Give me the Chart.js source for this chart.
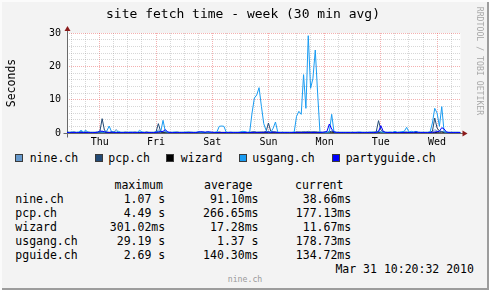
<!DOCTYPE html>
<html>
<head>
<meta charset="utf-8">
<title>site fetch time - week</title>
<script src="https://cdn.jsdelivr.net/npm/chart.js@4/dist/chart.umd.min.js"></script>
<style>
  body { margin: 0; background: #f3f3f3; }
  #graph {
    position: relative; width: 489px; height: 290px; overflow: hidden;
    background: #f3f3f3;
    box-shadow: inset 2px 2px 0 #fbfbfb, inset -2px -2px 0 #9c9c9c;
    font-family: "DejaVu Sans Mono", monospace; color: #000;
  }
  #graph canvas { position: absolute; left: 0; top: 0; }
  .txt { position: absolute; white-space: pre; font-size: 11.5px; line-height: 14px; }
  .title { left: 0; width: 486px; top: 5.8px; text-align: center; font-size: 13px; line-height: 16px; }
  .ylabel { left: -19.3px; width: 60px; top: 75.6px; text-align: center; transform: rotate(-90deg); }
  .mark { left: 425px; width: 110px; top: 56px; text-align: center; font-size: 8.2px; line-height: 10px;
          color: #a8a8a8; transform: rotate(90deg); }
  .footer { left: 0; width: 490px; top: 273.9px; text-align: center; font-size: 8.2px; line-height: 10px; color: #9a9a9a; }
  .box { position: absolute; width: 6px; height: 6px; top: 154px; border: 1px solid #3a3a3a; }
</style>
</head>
<body>
<div id="graph">
  <canvas id="fetchChart" width="489" height="150"></canvas>
  <div class="txt title">site fetch time - week (30 min avg)</div>
  <div class="txt ylabel">Seconds</div>
  <div class="txt mark">RRDTOOL / TOBI OETIKER</div>
  <div class="txt footer">nine.ch</div>
</div>

<script>
// one value per hour, hour 0 = Wed 10:20, hour 168 = Wed 10:20 a week later
const FIRST_MIDNIGHT = 14;
const DAYS = ['Thu', 'Fri', 'Sat', 'Sun', 'Mon', 'Tue', 'Wed'];
const Y_MAX = 30;

const SERIES_NAMES = ['nine.ch', 'pcp.ch', 'wizard', 'usgang.ch', 'partyguide.ch'];
const SHORT_NAMES = ['nine.ch', 'pcp.ch', 'wizard', 'usgang.ch', 'pguide.ch'];
const COLORS = ['#6699CC', '#234A75', '#000000', '#1A9CF2', '#0000FF'];

const STAT_HEADERS = ['maximum', 'average', 'current'];
const STAT_MAX = ['1.07 s', '4.49 s', '301.02ms', '29.19 s', '2.69 s'];
const STAT_AVG = ['91.10ms', '266.65ms', '17.28ms', '1.37 s', '140.30ms'];
const STAT_CUR = ['38.66ms', '177.13ms', '11.67ms', '178.73ms', '134.72ms'];
const STAMP = 'Mar 31 10:20:32 2010';

const nine = [
  0.08, 0.07, 0.09, 0.08, 0.07, 0.1, 0.5, 0.09, 0.3, 0.08, 0.07, 0.08,
  0.07, 0.08, 0.1, 0.6, 0.2, 0.09, 0.1, 0.3, 0.2, 1.07, 0.1, 0.08,
  0.07, 0.08, 0.07, 0.09, 0.08, 0.07, 0.08, 0.3, 0.09, 0.07, 0.08, 0.07,
  0.08, 0.09, 0.2, 0.9, 0.3, 0.4, 0.2, 0.08, 0.07, 0.08, 0.07, 0.08,
  0.07, 0.08, 0.07, 0.08, 0.09, 0.07, 0.08, 0.07, 0.08, 0.07, 0.09, 0.07,
  0.08, 0.07, 0.08, 0.07, 0.1, 0.2, 0.15, 0.1, 0.07, 0.08, 0.07, 0.08,
  0.07, 0.08, 0.1, 0.2, 0.1, 0.08, 0.1, 0.3, 0.4, 0.3, 0.35, 0.25,
  0.15, 0.1, 0.6, 0.2, 0.2, 0.3, 0.08, 0.07, 0.08, 0.07, 0.08, 0.07,
  0.08, 0.1, 0.2, 0.25, 0.2, 0.4, 0.2, 0.5, 0.3, 0.3, 0.4, 0.2,
  0.08, 0.07, 0.08, 0.1, 0.3, 0.6, 0.1, 0.08, 0.07, 0.08, 0.07, 0.08,
  0.07, 0.08, 0.07, 0.08, 0.07, 0.09, 0.08, 0.07, 0.08, 0.07, 0.09, 0.08,
  0.1, 0.8, 0.3, 0.1, 0.08, 0.07, 0.08, 0.1, 0.2, 0.08, 0.1, 0.15,
  0.2, 0.4, 0.1, 0.2, 0.1, 0.15, 0.08, 0.07, 0.08, 0.07, 0.08, 0.1,
  0.3, 1.0, 0.6, 0.2, 0.5, 0.15, 0.08, 0.07, 0.08, 0.07, 0.08, 0.07,
  0.039
];

const pcp = [
  0.3, 0.2, 0.2, 0.3, 0.2, 0.2, 0.3, 0.2, 0.2, 0.3, 0.2, 0.2,
  0.2, 0.3, 0.3, 4.3, 0.8, 0.3, 0.2, 0.2, 0.3, 0.2, 0.2, 0.2,
  0.2, 0.3, 0.2, 0.2, 0.2, 0.3, 0.2, 0.2, 0.2, 0.2, 0.3, 0.2,
  0.2, 0.2, 0.3, 2.8, 0.4, 0.2, 0.3, 0.2, 0.2, 0.2, 0.2, 0.3,
  0.2, 0.2, 0.2, 0.2, 0.3, 0.2, 0.2, 0.2, 0.2, 0.2, 0.3, 0.2,
  0.2, 0.2, 0.2, 0.2, 0.2, 0.3, 0.2, 0.2, 0.2, 0.2, 0.2, 0.2,
  0.2, 0.2, 0.2, 0.3, 0.2, 0.2, 0.2, 0.3, 0.3, 0.2, 0.2, 0.3,
  0.3, 0.4, 3.0, 0.5, 0.3, 0.3, 0.2, 0.2, 0.2, 0.2, 0.2, 0.2,
  0.2, 0.2, 0.3, 0.3, 0.3, 0.3, 0.3, 0.3, 0.3, 0.3, 0.3, 0.3,
  0.3, 0.2, 0.2, 0.2, 0.4, 0.5, 0.3, 0.2, 0.2, 0.2, 0.2, 0.2,
  0.2, 0.2, 0.2, 0.2, 0.2, 0.2, 0.2, 0.2, 0.2, 0.2, 0.2, 0.3,
  0.3, 3.7, 1.0, 0.3, 0.2, 0.2, 0.2, 0.2, 0.2, 0.2, 0.2, 0.2,
  0.2, 0.2, 0.2, 0.2, 0.2, 0.2, 0.2, 0.2, 0.2, 0.2, 0.2, 0.3,
  0.5, 4.49, 1.5, 0.6, 0.4, 0.3, 0.2, 0.2, 0.2, 0.2, 0.2, 0.2,
  0.177
];

const wizard = [
  0.02, 0.01, 0.02, 0.02, 0.01, 0.02, 0.01, 0.02, 0.02, 0.01, 0.02, 0.01,
  0.02, 0.02, 0.05, 0.1, 0.02, 0.01, 0.02, 0.01, 0.02, 0.02, 0.01, 0.02,
  0.01, 0.02, 0.02, 0.01, 0.02, 0.01, 0.02, 0.02, 0.01, 0.02, 0.01, 0.02,
  0.02, 0.01, 0.03, 0.08, 0.02, 0.01, 0.02, 0.02, 0.01, 0.02, 0.01, 0.02,
  0.01, 0.02, 0.02, 0.01, 0.02, 0.01, 0.02, 0.02, 0.01, 0.02, 0.01, 0.02,
  0.02, 0.01, 0.02, 0.02, 0.01, 0.02, 0.01, 0.02, 0.02, 0.01, 0.02, 0.01,
  0.02, 0.02, 0.01, 0.02, 0.01, 0.02, 0.02, 0.01, 0.02, 0.05, 0.08, 0.03,
  0.02, 0.04, 0.301, 0.05, 0.02, 0.01, 0.02, 0.02, 0.01, 0.02, 0.01, 0.02,
  0.02, 0.03, 0.06, 0.08, 0.05, 0.1, 0.06, 0.12, 0.07, 0.09, 0.1, 0.05,
  0.02, 0.01, 0.02, 0.02, 0.03, 0.1, 0.02, 0.01, 0.02, 0.02, 0.01, 0.02,
  0.01, 0.02, 0.02, 0.01, 0.02, 0.01, 0.02, 0.02, 0.01, 0.02, 0.01, 0.02,
  0.02, 0.15, 0.05, 0.02, 0.01, 0.02, 0.02, 0.01, 0.02, 0.01, 0.02, 0.02,
  0.01, 0.02, 0.02, 0.01, 0.02, 0.01, 0.02, 0.02, 0.01, 0.02, 0.01, 0.02,
  0.02, 0.2, 0.08, 0.02, 0.03, 0.02, 0.01, 0.02, 0.02, 0.01, 0.02, 0.01,
  0.012
];

const usgang = [
  0.2, 0.2, 0.3, 0.2, 0.2, 0.3, 0.8, 0.3, 0.8, 0.2, 0.2, 0.2,
  0.2, 0.2, 0.3, 0.2, 0.3, 0.6, 2.1, 0.4, 0.3, 0.2, 0.5, 0.2,
  0.2, 0.2, 0.2, 0.3, 0.2, 0.2, 0.2, 0.8, 0.3, 0.2, 0.2, 0.2,
  0.2, 0.2, 0.3, 0.5, 0.3, 3.8, 0.4, 0.2, 0.2, 0.2, 0.3, 0.2,
  0.2, 0.2, 0.2, 0.3, 0.2, 0.2, 0.2, 0.2, 0.3, 0.2, 0.2, 0.2,
  0.2, 0.2, 0.2, 0.2, 0.3, 2.0, 2.1, 2.0, 0.2, 0.2, 0.2, 0.2,
  0.2, 0.2, 0.3, 0.5, 0.4, 0.2, 0.3, 6.0, 10.5, 11.4, 13.6, 8.0,
  2.8, 0.8, 0.2, 0.2, 1.4, 3.3, 0.2, 0.2, 0.2, 0.2, 0.2, 0.2,
  0.2, 0.3, 5.0, 6.5, 5.6, 17.5, 7.4, 29.19, 13.4, 16.4, 24.9, 12.0,
  0.2, 0.2, 0.2, 0.2, 0.3, 5.6, 0.3, 0.2, 0.2, 0.2, 0.2, 0.2,
  0.2, 0.2, 0.2, 0.2, 0.2, 0.3, 0.2, 0.2, 0.2, 0.2, 0.3, 0.2,
  0.2, 0.4, 0.3, 0.2, 0.2, 0.2, 0.3, 0.2, 0.5, 0.2, 0.3, 0.4,
  0.5, 1.7, 0.3, 0.5, 0.3, 0.5, 0.2, 0.2, 0.2, 0.2, 0.2, 0.3,
  3.0, 7.4, 6.0, 2.0, 7.9, 0.3, 0.2, 0.2, 0.2, 0.2, 0.2, 0.2,
  0.18
];

const partyguide = [
  0.15, 0.1, 0.15, 0.2, 0.1, 0.15, 0.1, 0.15, 0.2, 0.1, 0.15, 0.1,
  0.15, 0.2, 0.6, 0.5, 0.4, 0.2, 0.15, 0.3, 0.15, 0.1, 0.15, 0.1,
  0.1, 0.15, 0.1, 0.15, 0.2, 0.1, 0.15, 0.1, 0.15, 0.1, 0.2, 0.1,
  0.15, 0.1, 0.2, 0.3, 0.4, 0.5, 1.0, 0.3, 0.15, 0.1, 0.15, 0.1,
  0.15, 0.1, 0.1, 0.15, 0.1, 0.2, 0.15, 0.1, 0.3, 0.4, 0.3, 0.2,
  0.4, 0.3, 0.2, 0.15, 0.1, 0.15, 0.1, 0.15, 0.1, 0.15, 0.2, 0.1,
  0.15, 0.1, 0.15, 0.1, 0.2, 0.15, 0.1, 0.15, 0.2, 0.15, 0.1, 0.15,
  0.2, 0.3, 0.2, 0.15, 0.3, 0.2, 0.15, 0.1, 0.15, 0.1, 0.15, 0.1,
  0.15, 0.1, 0.2, 0.15, 0.1, 0.15, 0.2, 0.15, 0.1, 0.2, 0.15, 0.1,
  0.15, 0.2, 0.3, 0.5, 2.69, 1.2, 0.3, 0.2, 0.15, 0.1, 0.15, 0.1,
  0.15, 0.1, 0.15, 0.1, 0.2, 0.15, 0.1, 0.15, 0.1, 0.2, 0.15, 0.1,
  0.2, 0.4, 2.2, 0.5, 0.2, 0.15, 0.1, 0.15, 0.2, 0.15, 0.1, 0.15,
  0.2, 0.15, 0.1, 0.15, 0.2, 0.3, 0.2, 0.15, 0.1, 0.15, 0.1, 0.15,
  0.2, 0.3, 0.4, 0.5, 1.6, 1.2, 0.3, 0.15, 0.1, 0.15, 0.1, 0.15,
  0.135
];

const SERIES = [nine, pcp, wizard, usgang, partyguide];

// --- page layout bits ---
const MGRID = 'rgba(230, 80, 80, 0.45)';
const GRID = 'rgba(150, 150, 150, 0.38)';
const AXIS = '#6a6a6a';
const ARROW = '#8b1a1a';

function addText(text, css) {
  const el = document.createElement('div');
  el.className = 'txt';
  el.textContent = text;
  Object.assign(el.style, css);
  document.getElementById('graph').appendChild(el);
}

function buildLegend() {
  const boxX = [15, 95, 166, 239, 332];
  const textX = [29.7, 108.3, 180.8, 252.3, 345.7];
  const graph = document.getElementById('graph');
  SERIES_NAMES.forEach((name, i) => {
    const box = document.createElement('div');
    box.className = 'box';
    box.style.left = boxX[i] + 'px';
    box.style.background = COLORS[i];
    graph.appendChild(box);
    addText(name, { left: textX[i] + 'px', top: '150.7px' });
  });
}

function buildStats() {
  const headX = [114.5, 204, 295];
  STAT_HEADERS.forEach((h, i) => addText(h, { left: headX[i] + 'px', top: '178.3px' }));
  const colRight = [165.2, 258.5, 351.2];
  SHORT_NAMES.forEach((name, r) => {
    const top = (192.3 + r * 14) + 'px';
    addText(name, { left: '15.3px', top: top });
    [STAT_MAX, STAT_AVG, STAT_CUR].forEach((col, c) => {
      addText(col[r], { right: (489 - colRight[c]) + 'px', top: top, textAlign: 'right' });
    });
  });
  addText(STAMP, { right: (489 - 473.9) + 'px', top: '262.3px' });
}

// white canvas behind the plot, and the rrdtool style axes with arrows
const rrdFrame = {
  id: 'rrdFrame',
  beforeDraw(chart) {
    const { ctx, chartArea: a } = chart;
    ctx.save();
    ctx.fillStyle = '#ffffff';
    ctx.fillRect(a.left, a.top, a.right - a.left, a.bottom - a.top);
    ctx.restore();
  },
  beforeDatasetsDraw(chart) {
    const { ctx, chartArea: a } = chart;
    const x0 = Math.round(a.left) + 0.5;
    const y0 = Math.round(a.bottom) + 0.5;
    ctx.save();
    ctx.strokeStyle = AXIS;
    ctx.lineWidth = 1;
    ctx.beginPath();
    ctx.moveTo(x0 - 4, y0);
    ctx.lineTo(a.right + 3, y0);
    ctx.moveTo(x0, y0 + 4);
    ctx.lineTo(x0, a.top - 3);
    ctx.stroke();
    ctx.fillStyle = ARROW;
    ctx.beginPath();
    ctx.moveTo(a.right + 2, y0 - 3);
    ctx.lineTo(a.right + 7, y0);
    ctx.lineTo(a.right + 2, y0 + 3);
    ctx.closePath();
    ctx.fill();
    ctx.beginPath();
    ctx.moveTo(x0 - 3, a.top - 2);
    ctx.lineTo(x0, a.top - 7);
    ctx.lineTo(x0 + 3, a.top - 2);
    ctx.closePath();
    ctx.fill();
    ctx.restore();
  }
};

function initFetchChart() {
  const ctx = document.getElementById('fetchChart').getContext('2d');
  const order = [5, 4, 3, 2, 1]; // later series painted on top, as rrdtool does
  new Chart(ctx, {
    type: 'line',
    data: {
      datasets: SERIES.map((values, i) => ({
        label: SERIES_NAMES[i],
        data: values.map((v, h) => ({ x: h, y: v })),
        borderColor: COLORS[i],
        borderWidth: 1,
        pointRadius: 0,
        tension: 0,
        fill: false,
        order: order[i]
      }))
    },
    options: {
      responsive: false,
      animation: false,
      devicePixelRatio: 1,
      layout: { padding: { top: 33, right: 28.5, left: 0, bottom: 0 } },
      plugins: { legend: { display: false }, tooltip: { enabled: false } },
      scales: {
        x: {
          type: 'linear',
          min: 0,
          max: 168,
          afterBuildTicks: (axis) => {
            const ticks = [];
            for (let h = FIRST_MIDNIGHT - 12; h < 168; h += 6) ticks.push({ value: h });
            axis.ticks = ticks;
          },
          afterFit: (axis) => { axis.height = 17; },
          ticks: {
            autoSkip: false,
            maxRotation: 0,
            minRotation: 0,
            padding: 3,
            color: '#000',
            font: { family: 'DejaVu Sans Mono', size: 10 },
            callback: (v) => {
              const d = (v - FIRST_MIDNIGHT) / 24;
              return Number.isInteger(d) && d >= 0 ? DAYS[d] : '';
            }
          },
          grid: {
            drawTicks: false,
            lineWidth: 1,
            color: (c) => ((c.tick.value - FIRST_MIDNIGHT) % 24 === 0 ? MGRID : GRID)
          },
          border: { display: false, dash: [1, 1] }
        },
        y: {
          min: 0,
          max: Y_MAX,
          afterFit: (axis) => { axis.width = 67; },
          ticks: {
            stepSize: 2,
            autoSkip: false,
            padding: 6,
            color: '#000',
            font: { family: 'DejaVu Sans Mono', size: 10 },
            callback: (v) => (v % 10 === 0 ? String(v) : '')
          },
          grid: {
            drawTicks: false,
            lineWidth: 1,
            color: (c) => {
              if (c.tick.value === 0) return 'rgba(0,0,0,0)';
              return c.tick.value % 10 === 0 ? MGRID : GRID;
            }
          },
          border: { display: false, dash: [1, 1] }
        }
      }
    },
    plugins: [rrdFrame]
  });
}

document.addEventListener('DOMContentLoaded', () => {
  buildLegend();
  buildStats();
  initFetchChart();
});
</script>
</body>
</html>
